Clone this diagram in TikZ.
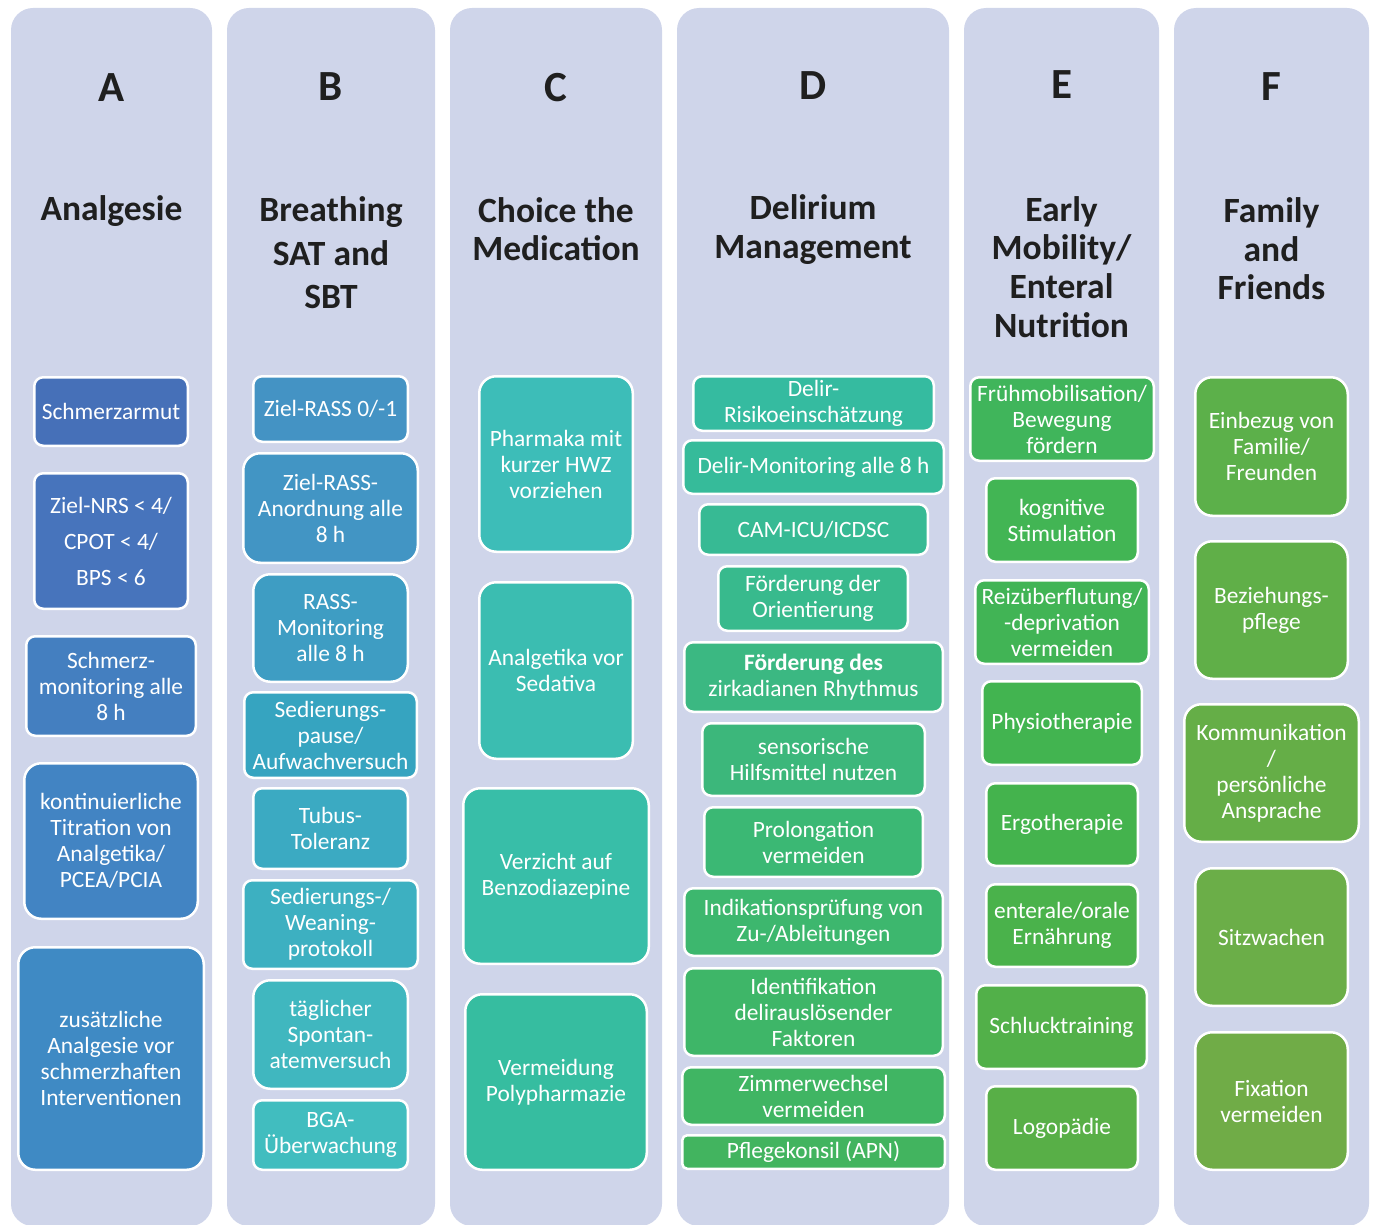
\documentclass[tikz,border=0pt]{standalone}
\usepackage{fontspec}
\setmainfont{Carlito}
\definecolor{colbg}{HTML}{CFD5EA}
\definecolor{a1}{HTML}{4670B8}\definecolor{a2}{HTML}{4774BC}\definecolor{a3}{HTML}{447FC0}\definecolor{a4}{HTML}{4284C3}\definecolor{a5}{HTML}{3F8AC4}
\definecolor{b1}{HTML}{4493C4}\definecolor{b2}{HTML}{4295C4}\definecolor{b3}{HTML}{3E9DC3}\definecolor{b4}{HTML}{36A4C0}\definecolor{b5}{HTML}{3BAAC2}\definecolor{b6}{HTML}{3DB0C1}\definecolor{b7}{HTML}{40B7BF}\definecolor{b8}{HTML}{41BDBF}
\definecolor{c1}{HTML}{3DBDB8}\definecolor{c2}{HTML}{3BBDB1}\definecolor{c3}{HTML}{38BEA8}\definecolor{c4}{HTML}{36BDA0}
\definecolor{d1}{HTML}{35BBA0}\definecolor{d2}{HTML}{36BB9A}\definecolor{d3}{HTML}{37BA94}\definecolor{d4}{HTML}{38BA8D}\definecolor{d5}{HTML}{3BB882}\definecolor{d6}{HTML}{3CB77B}\definecolor{d7}{HTML}{3BB874}\definecolor{d8}{HTML}{3DB76E}\definecolor{d9}{HTML}{3EB668}\definecolor{d10}{HTML}{40B563}\definecolor{d11}{HTML}{42B45F}
\definecolor{e1}{HTML}{40B55B}\definecolor{e2}{HTML}{42B554}\definecolor{e3}{HTML}{41B455}\definecolor{e4}{HTML}{42B450}\definecolor{e5}{HTML}{44B34D}\definecolor{e6}{HTML}{4AB24B}\definecolor{e7}{HTML}{52B049}\definecolor{e8}{HTML}{58AF47}
\definecolor{f1}{HTML}{5CB04A}\definecolor{f2}{HTML}{60AF48}\definecolor{f3}{HTML}{65AE47}\definecolor{f4}{HTML}{6BAE48}\definecolor{f5}{HTML}{70AC47}
\definecolor{ttl}{HTML}{1F1F1F}
\tikzset{
  column/.style={fill=colbg, draw=none, rounded corners=22pt},
  cbox/.style={draw=white, line width=2.5pt, rounded corners=9pt, text=white, align=center, inner sep=0pt,
     font={\fontsize{23.4}{26}\selectfont}},
  bigbox/.style={rounded corners=17pt},
  letter/.style={font={\fontsize{43}{48}\selectfont\bfseries}, text=ttl, inner sep=0pt},
  title/.style={font={\fontsize{35.5}{39}\selectfont\bfseries}, text=ttl, align=center, inner sep=0pt},
}
\newcommand{\bx}[8][]{\node[cbox, fill=#7, minimum width={#5-#3-2.5}, minimum height={#6-#4-2.5}, #1] (#2) at ({(#3+#5)/2},{(#4+#6)/2}) {#8};}
\newcommand{\colrect}[3]{\path[column] (#2,8) rectangle (#3,1226); \coordinate (#1) at ({(#2+#3)/2},8);}
\begin{document}
\begin{tikzpicture}[x=1pt,y=-1pt]
\useasboundingbox (0,0) rectangle (1375,1225);
\colrect{colA}{11}{212}
\colrect{colB}{227}{435}
\colrect{colC}{450}{662}
\colrect{colD}{677}{949}
\colrect{colE}{964}{1159}
\colrect{colF}{1174}{1369}
% headers
\node[letter] (lA) at (111.5,88) {A};
\node[letter] (lB) at (331,87) {B};
\node[letter] (lC) at (556,88) {C};
\node[letter] (lD) at (813,86) {D};
\node[letter] (lE) at (1061.5,85) {E};
\node[letter] (lF) at (1271.5,87) {F};
\node[title] (tA) at (111.5,211) {Analgesie};
\node[title, font={\fontsize{35.5}{43.5}\selectfont\bfseries}] (tB) at (331,253) {Breathing\\SAT and\\SBT};
\node[title, font={\fontsize{35.5}{38.5}\selectfont\bfseries}] (tC) at (556,229) {Choice the\\Medication};
\node[title] (tD) at (813,230) {Delirium\\Management};
\node[title, font={\fontsize{35.5}{38.7}\selectfont\bfseries}] (tE) at (1061.5,267) {Early\\Mobility/\\Enteral\\Nutrition};
\node[title, font={\fontsize{35.5}{38.5}\selectfont\bfseries}] (tF) at (1271.5,249) {Family\\and\\Friends};
% A
\bx{A1}{33}{376}{189}{447}{a1}{Schmerzarmut}
\bx[font={\fontsize{23.4}{36}\selectfont}]{A2}{33}{472}{189}{610}{a2}{Ziel-NRS < 4/\\CPOT < 4/\\BPS < 6}
\bx{A3}{25}{635}{197}{737}{a3}{Schmerz-\\monitoring alle\\8 h}
\bx[bigbox]{A4}{23}{762}{199}{920}{a4}{kontinuierliche\\Titration von\\Analgetika/\\PCEA/PCIA}
\bx[bigbox]{A5}{17}{946}{205}{1171}{a5}{zusätzliche\\Analgesie vor\\schmerzhaften\\Interventionen}
% B
\bx{B1}{252}{375}{409}{443}{b1}{Ziel-RASS 0/-1}
\bx[bigbox]{B2}{242}{452}{419}{564}{b2}{Ziel-RASS-\\Anordnung alle\\8 h}
\bx[bigbox]{B3}{252}{573}{409}{683}{b3}{RASS-\\Monitoring\\alle 8 h}
\bx{B4}{243}{691}{418}{779}{b4}{Sedierungs-\\pause/\\Aufwachversuch}
\bx{B5}{252}{787}{409}{870}{b5}{Tubus-\\Toleranz}
\bx{B6}{242}{879}{419}{970}{b6}{Sedierungs-/\\Weaning-\\protokoll}
\bx[bigbox]{B7}{252}{979}{409}{1090}{b7}{täglicher\\Spontan-\\atemversuch}
\bx{B8}{252}{1099}{409}{1171}{b8}{BGA-\\Überwachung}
% C
\bx[bigbox]{C1}{478}{375}{634}{553}{c1}{Pharmaka mit\\kurzer HWZ\\vorziehen}
\bx[bigbox]{C2}{478}{581}{634}{760}{c2}{Analgetika vor\\Sedativa}
\bx[bigbox]{C3}{462}{787}{650}{965}{c3}{Verzicht auf\\Benzodiazepine}
\bx[bigbox]{C4}{464}{993}{648}{1171}{c4}{Vermeidung\\Polypharmazie}
% D
\bx{D1}{692}{375}{935}{432}{d1}{Delir-\\Risikoeinschätzung}
\bx{D2}{682}{439}{945}{495}{d2}{Delir-Monitoring alle 8 h}
\bx{D3}{698}{503}{929}{556}{d3}{CAM-ICU/ICDSC}
\bx{D4}{717}{565}{909}{632}{d4}{Förderung der\\Orientierung}
\bx{D5}{683}{641}{944}{713}{d5}{\textbf{Förderung des}\\zirkadianen Rhythmus}
\bx{D6}{701}{722}{926}{797}{d6}{sensorische\\Hilfsmittel nutzen}
\bx{D7}{703}{806}{924}{878}{d7}{Prolongation\\vermeiden}
\bx{D8}{683}{887}{944}{957}{d8}{Indikationsprüfung von\\Zu-/Ableitungen}
\bx{D9}{683}{967}{944}{1057}{d9}{Identifikation\\delirauslösender\\Faktoren}
\bx{D10}{681}{1066}{946}{1126}{d10}{Zimmerwechsel\\vermeiden}
\bx[rounded corners=5pt]{D11}{681}{1134}{946}{1170}{d11}{Pflegekonsil (APN)}
% E
\bx{E1}{969}{376}{1155}{462}{e1}{Frühmobilisation/\\Bewegung\\fördern}
\bx{E2}{985}{477}{1139}{563}{e2}{kognitive\\Stimulation}
\bx{E3}{974}{579}{1150}{665}{e3}{Reizüberflutung/\\-deprivation\\vermeiden}
\bx{E4}{981}{680}{1143}{766}{e4}{Physiotherapie}
\bx{E5}{985}{782}{1139}{867}{e5}{Ergotherapie}
\bx{E6}{985}{883}{1139}{968}{e6}{enterale/orale\\Ernährung}
\bx{E7}{975}{984}{1148}{1070}{e7}{Schlucktraining}
\bx{E8}{985}{1085}{1139}{1171}{e8}{Logopädie}
% F
\bx[bigbox]{F1}{1194}{376}{1349}{517}{f1}{Einbezug von\\Familie/\\Freunden}
\bx[bigbox]{F2}{1194}{540}{1349}{680}{f2}{Beziehungs-\\pflege}
\bx[bigbox]{F3}{1183}{703}{1360}{843}{f3}{Kommunikation\\/\\persönliche\\Ansprache}
\bx[bigbox]{F4}{1194}{867}{1349}{1007}{f4}{Sitzwachen}
\bx[bigbox]{F5}{1194}{1031}{1349}{1171}{f5}{Fixation\\vermeiden}
\end{tikzpicture}
\end{document}
